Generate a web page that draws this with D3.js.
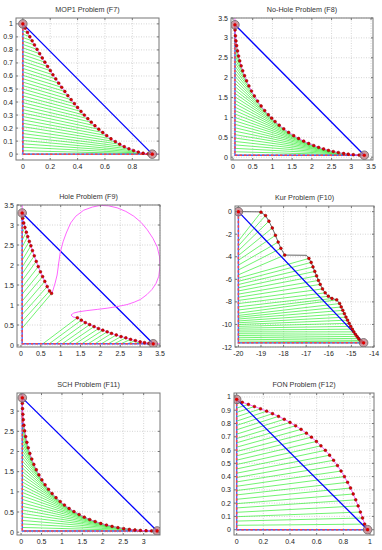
<!DOCTYPE html>
<html>
<head>
<meta charset="utf-8">
<script src="https://cdn.jsdelivr.net/npm/d3@7"></script>
<style>
  body { margin: 0; background: #fff; }
  svg { display: block; font-family: "Liberation Sans", Arial, sans-serif; }
</style>
</head>
<body>
<div id="chart"></div>
<script>
// ---- tick values ----
var tenthTicks = [0, 0.1, 0.2, 0.3, 0.4, 0.5, 0.6, 0.7, 0.8, 0.9, 1];
var mop1XTicks = [0, 0.2, 0.4, 0.6, 0.8];
var fonXTicks = [0, 0.2, 0.4, 0.6, 0.8, 1];
var halfTicks = [0, 0.5, 1, 1.5, 2, 2.5, 3, 3.5];
var schTicks = [0, 0.5, 1, 1.5, 2, 2.5, 3];
var kurXTicks = [-20, -19, -18, -17, -16, -15, -14];
var kurYTicks = [0, -2, -4, -6, -8, -10, -12];

// ---- MOP1 (F7) ----
var mop1Anchors = [[0, 1], [0.946, 0]];
var mop1F1 = [0,0.017,0.034,0.051,0.068,0.085,0.104,0.123,0.142,0.161,0.181,0.201,0.220,0.241,0.262,0.284,0.307,0.329,0.353,0.377,0.400,0.425,0.449,0.475,0.500,0.527,0.555,0.584,0.613,0.644,0.676,0.708,0.741,0.775,0.809,0.844,0.879,0.915,0.946];
var mop1F2 = [1,0.967,0.934,0.901,0.870,0.838,0.804,0.771,0.738,0.706,0.673,0.641,0.609,0.577,0.545,0.513,0.481,0.449,0.418,0.387,0.358,0.328,0.300,0.272,0.245,0.218,0.191,0.166,0.142,0.118,0.096,0.076,0.057,0.041,0.027,0.016,0.007,0.002,0];
var mop1Feet = [1,0.974,0.947,0.921,0.895,0.868,0.842,0.816,0.789,0.763,0.737,0.711,0.684,0.658,0.632,0.605,0.579,0.553,0.526,0.5,0.474,0.447,0.421,0.395,0.368,0.342,0.316,0.289,0.263,0.237,0.211,0.184,0.158,0.132,0.105,0.079,0.053,0.026,0];
var mop1Tail = [[0.946, 0], [0.995, 0]];

// ---- No-Hole (F8) ----
var nhAnchors = [[0.05, 3.33], [3.33, 0.05]];
var nhF1 = [0.05,0.053,0.063,0.076,0.093,0.116,0.142,0.171,0.207,0.247,0.293,0.345,0.404,0.470,0.542,0.624,0.713,0.804,0.896,0.982,1.067,1.172,1.287,1.411,1.539,1.664,1.792,1.920,2.048,2.172,2.297,2.421,2.543,2.671,2.805,2.923,3.051,3.199,3.33];
var nhF2 = [3.33,3.199,3.051,2.923,2.805,2.671,2.543,2.421,2.297,2.172,2.048,1.920,1.792,1.664,1.539,1.411,1.287,1.172,1.067,0.982,0.896,0.804,0.713,0.624,0.542,0.470,0.404,0.345,0.293,0.247,0.207,0.171,0.142,0.116,0.093,0.076,0.063,0.053,0.05];
var nhFeet = [3.33,3.244,3.157,3.071,2.985,2.898,2.812,2.726,2.640,2.553,2.467,2.381,2.294,2.208,2.122,2.036,1.949,1.863,1.777,1.690,1.604,1.518,1.431,1.345,1.259,1.173,1.086,1.000,0.914,0.827,0.741,0.655,0.568,0.482,0.396,0.310,0.223,0.137,0.05];
var nhHead = [[0.05, 3.5], [0.05, 3.33]];

// ---- Hole (F9) ----
var holeAnchors = [[0.03, 3.30], [3.33, 0.03]];
var holeUpF1 = [0.03,0.045,0.07,0.10,0.135,0.17,0.21,0.25,0.29,0.335,0.385,0.435,0.49,0.545,0.60,0.66,0.72,0.77];
var holeUpF2 = [3.30,3.17,3.05,2.94,2.82,2.71,2.59,2.48,2.36,2.23,2.09,1.96,1.83,1.71,1.59,1.46,1.35,1.29];
var holeUpFeet = [3.30,3.13,2.96,2.79,2.62,2.45,2.29,2.12,1.95,1.78,1.61,1.44,1.27,1.10,0.93,0.76,0.59,0.42];
var holeLowF1 = [1.42,1.52,1.62,1.73,1.84,1.95,2.06,2.17,2.28,2.40,2.52,2.64,2.76,2.88,3.00,3.11,3.22,3.33];
var holeLowF2 = [0.68,0.62,0.56,0.51,0.46,0.41,0.37,0.33,0.29,0.25,0.21,0.18,0.14,0.11,0.08,0.06,0.04,0.03];
var holeLowFeet = [0.55,0.71,0.88,1.04,1.20,1.37,1.53,1.69,1.86,2.02,2.19,2.35,2.51,2.68,2.84,3.00,3.17,3.33];
var holeLoopF1 = [0.77,0.80,0.86,0.91,0.95,0.99,1.06,1.14,1.25,1.38,1.58,1.8,2.0,2.2,2.42,2.64,2.84,3.03,3.18,3.32,3.43,3.49,3.5,3.47,3.4,3.3,3.17,3.01,2.85,2.67,2.42,2.17,1.92,1.66,1.45,1.33,1.26,1.31,1.42];
var holeLoopF2 = [1.29,1.35,1.55,1.75,2.05,2.32,2.58,2.80,3.05,3.22,3.37,3.45,3.49,3.48,3.43,3.34,3.22,3.06,2.88,2.67,2.45,2.2,1.97,1.72,1.54,1.39,1.26,1.14,1.07,1.01,0.96,0.92,0.89,0.86,0.83,0.80,0.75,0.70,0.68];
var holeHead = [[0.03, 3.5], [0.03, 3.30]];
var holeTail = [[3.33, 0.03], [3.5, 0.03]];

// ---- Kur (F10) ----
var kurAnchors = [[-20, 0], [-14.46, -11.63]];
var kurF1 = [-19.0,-18.8,-18.65,-18.5,-18.36,-18.24,-18.12,-17.95,-16.88,-16.78,-16.7,-16.62,-16.54,-16.46,-16.38,-16.28,-16.16,-16.02,-15.86,-15.65,-15.52,-15.45,-15.38,-15.31,-15.24,-15.17,-15.1,-15.03,-14.96,-14.89,-14.82,-14.75,-14.68,-14.61,-14.54,-14.46];
var kurF2 = [-0.05,-0.35,-0.85,-1.45,-2.1,-2.7,-3.25,-3.85,-4.15,-4.5,-4.9,-5.3,-5.7,-6.1,-6.45,-6.85,-7.2,-7.5,-7.7,-7.82,-8.15,-8.45,-8.75,-9.05,-9.35,-9.62,-9.9,-10.17,-10.42,-10.66,-10.88,-11.08,-11.26,-11.42,-11.55,-11.63];
var kurFeet = [-2.6,-3.03,-3.46,-3.89,-4.31,-4.74,-5.17,-5.6,
  -5.9,-6.18,-6.46,-6.75,-7.03,-7.31,-7.59,-7.87,-8.15,-8.44,-8.72,-9.0,
  -9.2,-9.36,-9.52,-9.69,-9.85,-10.01,-10.17,-10.33,-10.5,-10.66,-10.82,-10.98,-11.14,-11.31,-11.47,-11.63];
var kurHead = [[-20, 0], [-19.05, -0.02]];
var kurGap = [[-17.95, -3.85], [-17.0, -3.87], [-16.95, -3.95], [-16.88, -4.15]];

// ---- SCH (F11) ----
var schAnchors = [[0.03, 3.33], [3.33, 0.03]];
var schF1 = [0.03,0.031,0.036,0.044,0.054,0.069,0.088,0.112,0.142,0.176,0.215,0.262,0.313,0.372,0.437,0.509,0.587,0.672,0.759,0.855,0.957,1.061,1.175,1.295,1.420,1.547,1.679,1.813,1.951,2.090,2.227,2.370,2.511,2.650,2.787,2.921,3.059,3.193,3.33];
var schF2 = [3.33,3.193,3.059,2.921,2.787,2.650,2.511,2.370,2.227,2.090,1.951,1.813,1.679,1.547,1.420,1.295,1.175,1.061,0.957,0.855,0.759,0.672,0.587,0.509,0.437,0.372,0.313,0.262,0.215,0.176,0.142,0.112,0.088,0.069,0.054,0.044,0.036,0.031,0.03];
var schFeet = [3.33,3.243,3.156,3.069,2.983,2.896,2.809,2.722,2.635,2.548,2.462,2.375,2.288,2.201,2.114,2.027,1.941,1.854,1.767,1.680,1.593,1.506,1.420,1.333,1.246,1.159,1.072,0.985,0.899,0.812,0.725,0.638,0.551,0.464,0.378,0.291,0.204,0.117,0.03];
var schHead = [[0.03, 3.5], [0.03, 3.33]];

// ---- FON (F12) ----
var fonAnchors = [[0, 0.982], [0.982, 0]];
var fonF1 = [0,0.042,0.088,0.133,0.179,0.225,0.269,0.314,0.357,0.400,0.442,0.483,0.523,0.561,0.598,0.632,0.665,0.697,0.727,0.756,0.783,0.808,0.832,0.854,0.874,0.893,0.911,0.928,0.944,0.960,0.982];
var fonF2 = [0.982,0.960,0.944,0.928,0.911,0.893,0.874,0.854,0.832,0.808,0.783,0.756,0.727,0.697,0.665,0.632,0.598,0.561,0.523,0.483,0.442,0.400,0.357,0.314,0.269,0.225,0.179,0.133,0.088,0.042,0];
var fonFeet = [0.982,0.949,0.916,0.884,0.851,0.818,0.786,0.753,0.720,0.687,0.655,0.622,0.589,0.557,0.524,0.491,0.458,0.426,0.393,0.360,0.327,0.295,0.262,0.229,0.196,0.164,0.131,0.098,0.065,0.033,0];

function zipPts(a, b) { return a.map(function(v, i) { return [v, b[i]]; }); }

var panels = [
  { title: 'MOP1 Problem (F7)', box: [16, 18, 159, 160], xDomain: [-0.05, 0.995], yDomain: [-0.045, 1.045],
    xTicks: mop1XTicks, yTicks: tenthTicks, anchors: mop1Anchors,
    groups: [{ f1: mop1F1, f2: mop1F2, feet: mop1Feet, side: 'left' }],
    curves: [{ pts: zipPts(mop1F1, mop1F2), color: '#ff55ff' }, { pts: mop1Tail, color: '#ff55ff' }] },
  { title: 'No-Hole Problem (F8)', box: [231, 18, 373, 160], xDomain: [-0.05, 3.55], yDomain: [-0.07, 3.5],
    xTicks: halfTicks, yTicks: halfTicks, anchors: nhAnchors,
    groups: [{ f1: nhF1, f2: nhF2, feet: nhFeet, side: 'left' }],
    curves: [{ pts: nhHead.concat(zipPts(nhF1, nhF2)), color: '#ff55ff' }] },
  { title: 'Hole Problem (F9)', box: [17, 205, 160, 347], xDomain: [-0.1, 3.5], yDomain: [-0.05, 3.5],
    xTicks: halfTicks, yTicks: halfTicks, anchors: holeAnchors,
    groups: [{ f1: holeUpF1, f2: holeUpF2, feet: holeUpFeet, side: 'left' },
             { f1: holeLowF1, f2: holeLowF2, feet: holeLowFeet, side: 'bottom' }],
    curves: [{ pts: holeHead.concat(zipPts(holeUpF1, holeUpF2), zipPts(holeLoopF1, holeLoopF2), zipPts(holeLowF1, holeLowF2), holeTail), color: '#ff55ff' }] },
  { title: 'Kur Problem (F10)', box: [235, 206, 374, 347], xDomain: [-20.15, -14], yDomain: [-12, 0.5],
    xTicks: kurXTicks, yTicks: kurYTicks, anchors: kurAnchors,
    groups: [{ f1: kurF1, f2: kurF2, feet: kurFeet, side: 'left' }],
    curves: [{ pts: kurHead.concat(zipPts(kurF1.slice(0, 8), kurF2.slice(0, 8)), kurGap, zipPts(kurF1.slice(8), kurF2.slice(8))), color: '#555555' }] },
  { title: 'SCH Problem (F11)', box: [17, 393, 160, 535], xDomain: [-0.1, 3.4], yDomain: [-0.07, 3.45],
    xTicks: schTicks, yTicks: schTicks, anchors: schAnchors,
    groups: [{ f1: schF1, f2: schF2, feet: schFeet, side: 'left' }],
    curves: [{ pts: schHead.concat(zipPts(schF1, schF2)), color: '#ff55ff' }] },
  { title: 'FON Problem (F12)', box: [234, 393, 374, 535], xDomain: [-0.02, 1.03], yDomain: [-0.04, 1.03],
    xTicks: fonXTicks, yTicks: tenthTicks, anchors: fonAnchors,
    groups: [{ f1: fonF1, f2: fonF2, feet: fonFeet, side: 'left' }],
    curves: [{ pts: zipPts(fonF1, fonF2), color: '#ff55ff' }] }
];

var svg = d3.select('#chart').append('svg')
  .attr('width', 382)
  .attr('height', 550);

function drawPanel(p, idx) {
  var x = d3.scaleLinear().domain(p.xDomain).range([p.box[0], p.box[2]]);
  var y = d3.scaleLinear().domain(p.yDomain).range([p.box[3], p.box[1]]);
  var g = svg.append('g');
  var clipId = 'clip' + idx;
  svg.append('clipPath').attr('id', clipId).append('rect')
    .attr('x', p.box[0]).attr('y', p.box[1])
    .attr('width', p.box[2] - p.box[0]).attr('height', p.box[3] - p.box[1]);

  // grid
  g.selectAll('.gx').data(p.xTicks).enter().append('line')
    .attr('x1', function(d) { return x(d); }).attr('x2', function(d) { return x(d); })
    .attr('y1', p.box[1]).attr('y2', p.box[3])
    .attr('stroke', '#b8b8b8').attr('stroke-width', 0.6).attr('stroke-dasharray', '1,1.5');
  g.selectAll('.gy').data(p.yTicks).enter().append('line')
    .attr('y1', function(d) { return y(d); }).attr('y2', function(d) { return y(d); })
    .attr('x1', p.box[0]).attr('x2', p.box[2])
    .attr('stroke', '#b8b8b8').attr('stroke-width', 0.6).attr('stroke-dasharray', '1,1.5');

  var plot = g.append('g').attr('clip-path', 'url(#' + clipId + ')');
  var corner = [p.anchors[0][0], p.anchors[1][1]];

  // green search lines
  p.groups.forEach(function(grp) {
    var segs = grp.f1.map(function(v, i) {
      var foot = grp.side === 'left' ? [corner[0], grp.feet[i]] : [grp.feet[i], corner[1]];
      return [[v, grp.f2[i]], foot];
    });
    plot.selectAll(null).data(segs).enter().append('line')
      .attr('x1', function(d) { return x(d[0][0]); }).attr('y1', function(d) { return y(d[0][1]); })
      .attr('x2', function(d) { return x(d[1][0]); }).attr('y2', function(d) { return y(d[1][1]); })
      .attr('stroke', '#33ee33').attr('stroke-width', 0.7);
  });

  // L-shaped reference lines
  var lPts = [p.anchors[0], corner, p.anchors[1]];
  var line = d3.line().x(function(d) { return x(d[0]); }).y(function(d) { return y(d[1]); });
  plot.append('path').attr('d', line(lPts)).attr('fill', 'none')
    .attr('stroke', '#4466ff').attr('stroke-width', 1.4);
  plot.append('path').attr('d', line(lPts)).attr('fill', 'none')
    .attr('stroke', '#ff4444').attr('stroke-width', 1.5).attr('stroke-dasharray', '2.5,2');

  // anchor line
  plot.append('path').attr('d', line(p.anchors)).attr('fill', 'none')
    .attr('stroke', '#0000ff').attr('stroke-width', 1.3);

  // front curves
  p.curves.forEach(function(c) {
    plot.append('path').attr('d', line(c.pts)).attr('fill', 'none')
      .attr('stroke', c.color).attr('stroke-width', 0.9);
  });

  // solution points
  p.groups.forEach(function(grp) {
    plot.selectAll(null).data(zipPts(grp.f1, grp.f2)).enter().append('circle')
      .attr('cx', function(d) { return x(d[0]); }).attr('cy', function(d) { return y(d[1]); })
      .attr('r', 1.4).attr('fill', '#e00000').attr('stroke', '#800000').attr('stroke-width', 0.5);
  });

  // anchors
  plot.selectAll(null).data(p.anchors).enter().append('circle')
    .attr('cx', function(d) { return x(d[0]); }).attr('cy', function(d) { return y(d[1]); })
    .attr('r', 4.3).attr('fill', 'rgba(190,120,130,0.75)').attr('stroke', '#666').attr('stroke-width', 0.8);
  plot.selectAll(null).data(p.anchors).enter().append('circle')
    .attr('cx', function(d) { return x(d[0]); }).attr('cy', function(d) { return y(d[1]); })
    .attr('r', 1.6).attr('fill', '#e00000');

  // frame + ticks
  g.append('rect').attr('x', p.box[0]).attr('y', p.box[1])
    .attr('width', p.box[2] - p.box[0]).attr('height', p.box[3] - p.box[1])
    .attr('fill', 'none').attr('stroke', '#777').attr('stroke-width', 1);
  p.xTicks.forEach(function(t) {
    g.append('line').attr('x1', x(t)).attr('x2', x(t)).attr('y1', p.box[3]).attr('y2', p.box[3] - 2).attr('stroke', '#777');
    g.append('line').attr('x1', x(t)).attr('x2', x(t)).attr('y1', p.box[1]).attr('y2', p.box[1] + 2).attr('stroke', '#777');
  });
  p.yTicks.forEach(function(t) {
    g.append('line').attr('y1', y(t)).attr('y2', y(t)).attr('x1', p.box[0]).attr('x2', p.box[0] + 2).attr('stroke', '#777');
    g.append('line').attr('y1', y(t)).attr('y2', y(t)).attr('x1', p.box[2]).attr('x2', p.box[2] - 2).attr('stroke', '#777');
  });

  // labels
  g.selectAll(null).data(p.xTicks).enter().append('text')
    .attr('x', function(d) { return x(d); }).attr('y', p.box[3] + 9)
    .attr('text-anchor', 'middle').attr('font-size', 7).attr('fill', '#222')
    .text(function(d) { return String(d); });
  g.selectAll(null).data(p.yTicks).enter().append('text')
    .attr('x', p.box[0] - 3).attr('y', function(d) { return y(d) + 2.5; })
    .attr('text-anchor', 'end').attr('font-size', 7).attr('fill', '#222')
    .text(function(d) { return String(d); });
  g.append('text').attr('x', (p.box[0] + p.box[2]) / 2).attr('y', p.box[1] - 6)
    .attr('text-anchor', 'middle').attr('font-size', 7.2).attr('fill', '#333')
    .text(p.title);
}

panels.forEach(drawPanel);
</script>
</body>
</html>
